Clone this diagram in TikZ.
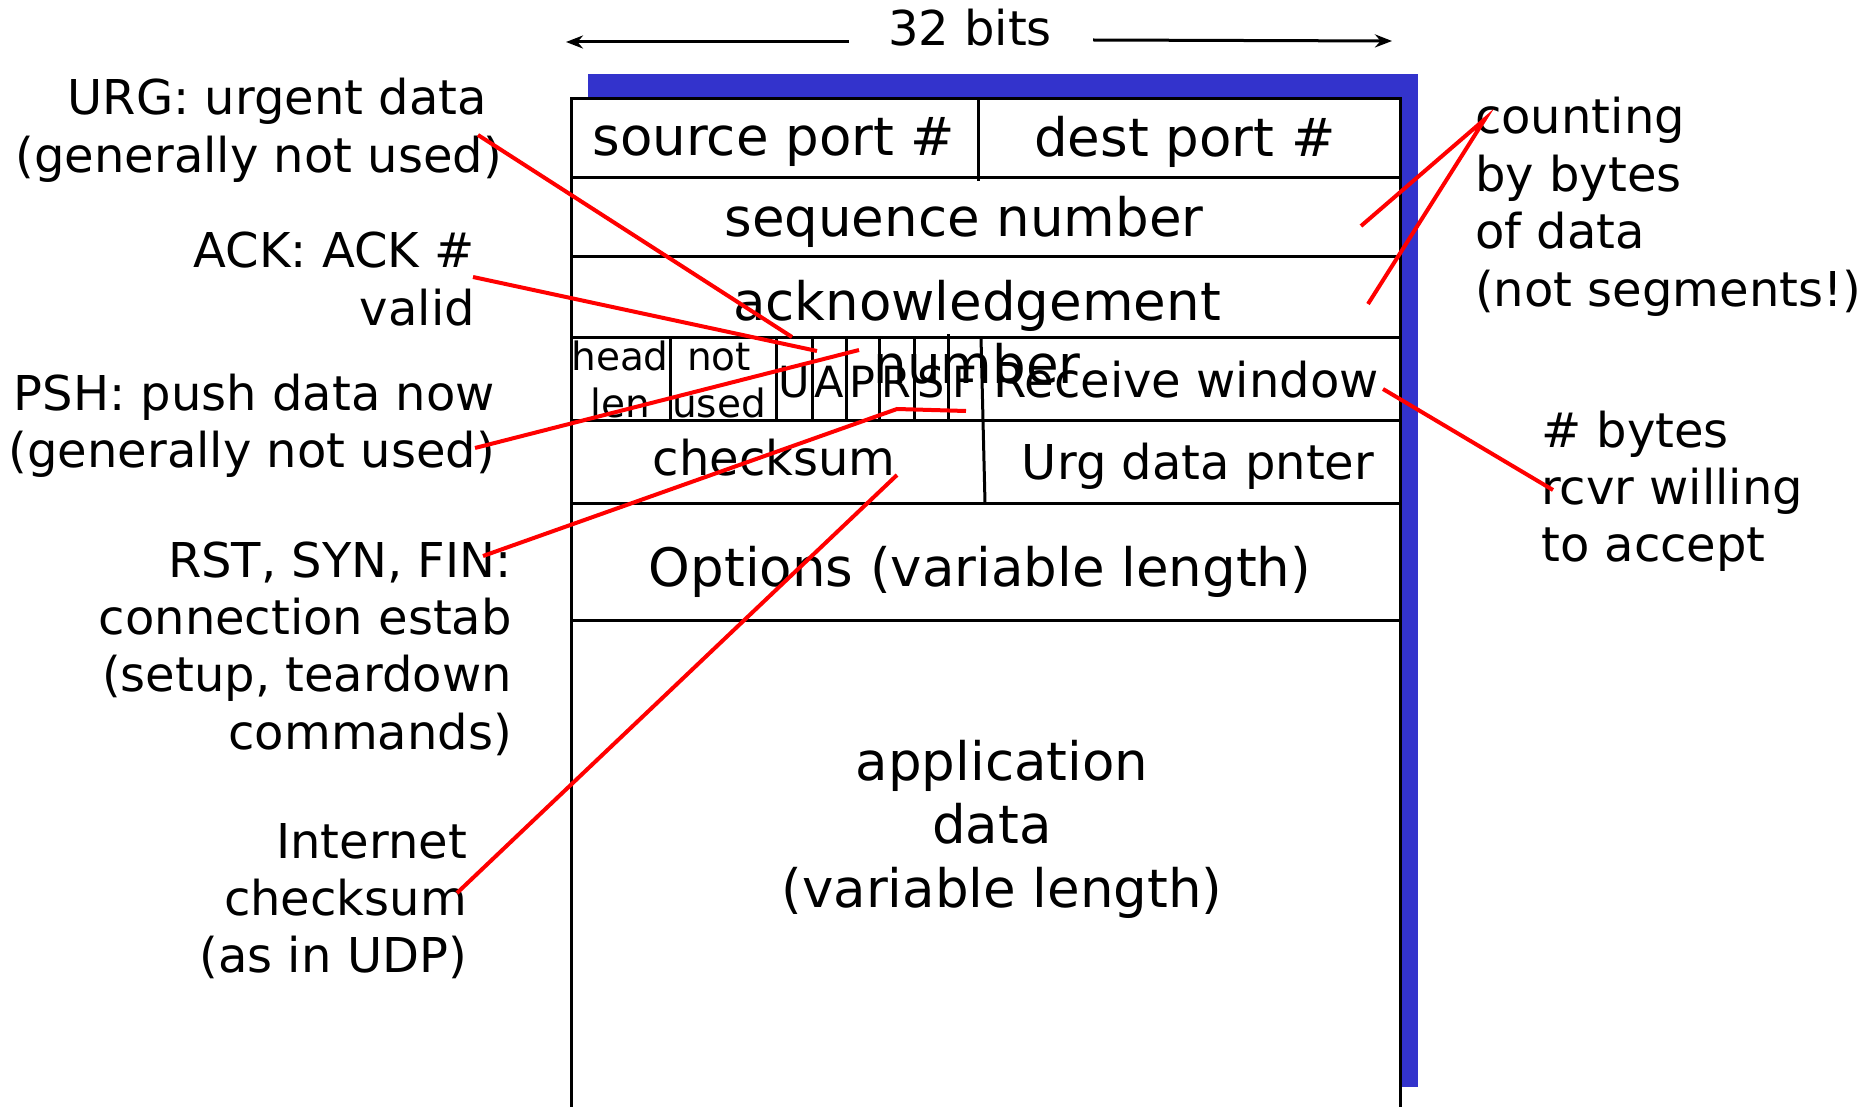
\documentclass[tikz,border=0pt]{standalone}
\usepackage{fontspec}
\setmainfont{DejaVu Sans}
\usetikzlibrary{arrows.meta}
\definecolor{shadowblue}{RGB}{51,51,204}
\definecolor{callout}{RGB}{255,0,0}
\begin{document}
\begin{tikzpicture}[x=1pt,y=-1pt,
  celltext/.style={inner sep=0pt, anchor=base, align=center, font=\fontsize{53}{63.6}\selectfont},
  cellsmall/.style={inner sep=0pt, anchor=base, font=\fontsize{48}{57.6}\selectfont},
  flagletter/.style={inner sep=0pt, anchor=base, font=\fontsize{43}{51}\selectfont},
  flagnote/.style={inner sep=0pt, anchor=base, align=center, font=\fontsize{39}{47}\selectfont},
  leftnote/.style={inner sep=0pt, anchor=base east, align=right, font=\fontsize{48}{57.4}\selectfont},
  rightnote/.style={inner sep=0pt, anchor=base west, align=left, font=\fontsize{48}{57.4}\selectfont},
  tableline/.style={line width=3pt, black},
  callline/.style={line width=4pt, callout},
  widtharrow/.style={line width=3pt, -{Stealth[length=17pt,width=13pt]}},
]
\useasboundingbox (0,0) rectangle (1873,1107);

% blue shadow behind the segment layout
\fill[shadowblue] (588,74) rectangle (1418,1087);

% segment layout: outer frame and rows
\filldraw[tableline, fill=white] (571,99) rectangle (1400,1115);
\foreach \yy in {177.5,257,337.5,420,503,620}
  \draw[tableline] (571,\yy) -- (1400,\yy);
\draw[tableline] (978,99) -- (978,181);
\foreach \xx in {670,776,812,846,879,914}
  \draw[tableline] (\xx,337.5) -- (\xx,420);
\draw[tableline] (948,334) -- (948,420);
\draw[tableline] (981,337.5) -- (985,503);

% width indicator
\node[inner sep=0pt, anchor=base, font=\fontsize{48}{57.6}\selectfont] (bits) at (970,46) {32 bits};
\coordinate (bitsLA) at (849,42);
\coordinate (bitsLB) at (566,42);
\coordinate (bitsRA) at (1093,40);
\coordinate (bitsRB) at (1392,41);
\draw[widtharrow] (bitsLA) -- (bitsLB);
\draw[widtharrow] (bitsRA) -- (bitsRB);

% field names (multi-line nodes sit on the baseline of their last line)
\node[celltext] (srcport) at (774,156) {source port \#};
\node[celltext] (dstport) at (1185,157) {dest port \#};
\node[celltext] (seqnum) at (964,237) {sequence number};
\node[celltext] (acknum) at (977,383.6) {acknowledgement\\number};
\node[flagnote] (hlen) at (620,417) {head\\len};
\node[flagnote] (unused) at (719,417) {not\\used};
\node[flagletter] (fU) at (794,397) {U};
\node[flagletter] (fA) at (829,397) {A};
\node[flagletter] (fP) at (862.5,397) {P};
\node[flagletter] (fR) at (896.5,397) {R};
\node[flagletter] (fS) at (931,397) {S};
\node[flagletter] (fF) at (965,397) {F};
\node[cellsmall] (rwin) at (1186,397) {Receive window};
\node[cellsmall] (csum) at (774,475) {checksum};
\node[cellsmall] (urgptr) at (1198,479) {Urg data pnter};
\node[celltext] (opts) at (980,586) {Options (variable length)};
\node[celltext] (appdata) at (1002,907.2) {application\\data\rule{20pt}{0pt}\\(variable length)};

% annotations on the left
\node[leftnote] (urgnote) at (502,172.4) {URG: urgent data\rule{15pt}{0pt}\\(generally not used)};
\node[leftnote] (acknote) at (475,325.4) {ACK: ACK \#\\valid};
\node[leftnote] (pshnote) at (495,467.4) {PSH: push data now\\(generally not used)};
\node[leftnote] (rstnote) at (512,749.2) {RST, SYN, FIN:\\connection estab\\(setup, teardown\\commands)};
\node[leftnote] (csumnote) at (467,972.8) {Internet\\checksum\\(as in UDP)};

% annotations on the right
\node[rightnote] (countnote) at (1475,306.2) {counting\\by bytes\\of data\\(not segments!)};
\node[rightnote] (rwinnote) at (1541,561.8) {\# bytes\\rcvr willing\\to accept};

% callout line end points
\coordinate (urgA) at (478,135);   \coordinate (urgB) at (792,337);
\coordinate (ackA) at (473,277);   \coordinate (ackB) at (817,351);
\coordinate (pshA) at (475,448);   \coordinate (pshB) at (859,350);
\coordinate (rstA) at (483,556);   \coordinate (rstK) at (897,409);
\coordinate (rstB) at (966,411);
\coordinate (csA) at (457,893);    \coordinate (csB) at (897,475);
\coordinate (cntA) at (1485,119);  \coordinate (cntB) at (1361,226);
\coordinate (cntC) at (1368,304);
\coordinate (rwA) at (1383,389);   \coordinate (rwB) at (1553,490);

% callout lines
\draw[callline] (urgA) -- (urgB);
\draw[callline] (ackA) -- (ackB);
\draw[callline] (pshA) -- (pshB);
\draw[callline] (rstA) -- (rstK) -- (rstB);
\draw[callline] (csA) -- (csB);
\draw[callline] (cntB) -- (cntA) -- (cntC);
\draw[callline] (rwA) -- (rwB);
\end{tikzpicture}
\end{document}
